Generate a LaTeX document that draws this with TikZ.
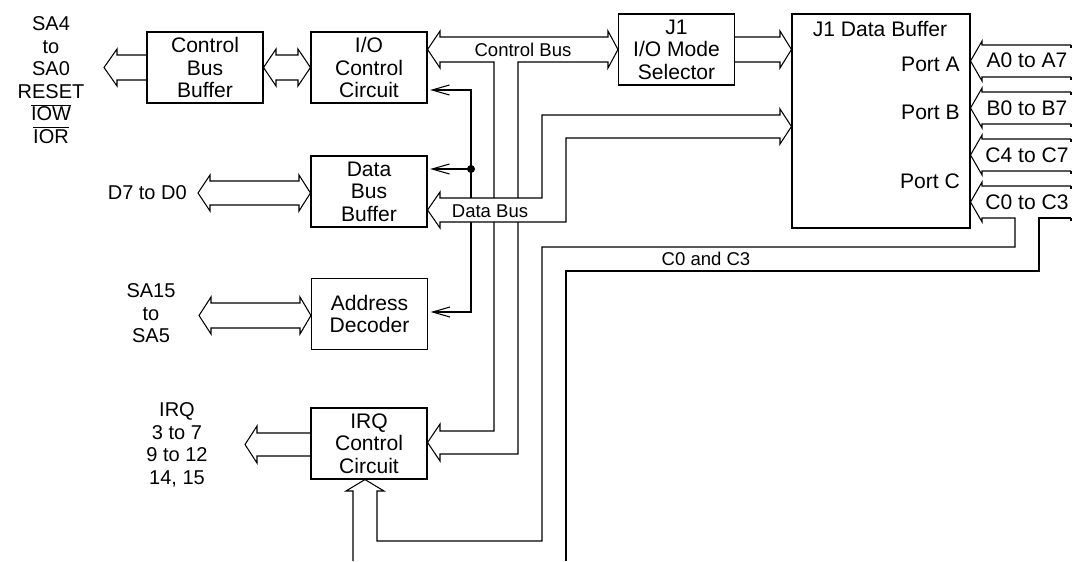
\documentclass[tikz,border=0pt]{standalone}
\usepackage{fontspec}
\setmainfont{Liberation Sans}
\usetikzlibrary{arrows.meta}

\tikzset{
  box/.style={draw, line width=0.8pt, align=center, inner sep=0pt,
    minimum width=87pt, minimum height=53.25pt, font=\fontsize{15.8}{16.9}\selectfont},
  lab/.style={align=center, inner sep=0pt, font=\fontsize{15}{16.9}\selectfont},
  plab/.style={inner sep=0pt, font=\fontsize{15.8}{16.9}\selectfont},
  slab/.style={inner sep=0pt, font=\fontsize{13.9}{15}\selectfont},
  bus/.style={line width=0.8pt, line join=miter},
  sig/.style={line width=0.8pt, -{Straight Barb[length=13pt,width=7.5pt]}}
}

\begin{document}
\begin{tikzpicture}[x=0.75pt, y=-0.75pt]
\fill[white] (0,0) rectangle (1073,561);

% blocks
\node[box] (cbb) at (205,67.5) {Control\\Bus\\Buffer};
\node[box] (iocc) at (369,67.5) {I/O\\Control\\Circuit};
\node[box] (mode) at (676.5,49.5) {J1\\I/O Mode\\Selector};
\node[box, minimum width=133.5pt, minimum height=160.5pt] (jdb) at (881,121) {};
\node[box] (dbb) at (369,191.5) {Data\\Bus\\Buffer};
\node[box] (adec) at (369.5,314) {Address\\Decoder};
\node[box] (irqc) at (369,443.5) {IRQ\\Control\\Circuit};

\node[plab] (jdbname) at (880,28.5) {J1 Data Buffer};
\node[plab, anchor=east] (porta) at (960,64.5) {Port A};
\node[plab, anchor=east] (portb) at (960,112.5) {Port B};
\node[plab, anchor=east] (portc) at (960,181.5) {Port C};

% outside signals
\node[lab] (ctlsig) at (51,80) {SA4\\to\\SA0\\RESET\\$\overline{\hbox{IOW}}$\\$\overline{\hbox{IOR}}$};
\node[lab, anchor=east] (datsig) at (187,193) {D7 to D0};
\node[lab] (adrsig) at (151,313.5) {SA15\\to\\SA5};
\node[lab] (irqsig) at (177,445) {IRQ\\3 to 7\\9 to 12\\14, 15};

% wide arrows on the left
\draw[bus] (cbb.west |- 0,55) -- (117,55) -- (117,49) -- (104,67.5) -- (117,86) -- (117,80) -- (cbb.west |- 0,80);
\draw[bus] (276,55) -- (276,49) -- (cbb.east) -- (276,86) -- (276,80) -- (298,80) -- (298,86) -- (iocc.west) -- (298,49) -- (298,55) -- cycle;
\draw[bus] (198,193) -- (210,175) -- (210,181) -- (299,181) -- (299,175) -- (dbb.west |- 0,193) -- (299,211) -- (299,205) -- (210,205) -- (210,211) -- cycle;
\draw[bus] (199,315.5) -- (211,297) -- (211,303) -- (300,303) -- (300,297) -- (adec.west |- 0,315.5) -- (300,334) -- (300,328) -- (211,328) -- (211,334) -- cycle;
\draw[bus] (irqc.west |- 0,433) -- (257,433) -- (257,426) -- (245,444.5) -- (257,463) -- (257,456) -- (irqc.west |- 0,456);

% control bus
\draw[bus] (iocc.east |- 0,49.5) -- (440,31) -- (440,37) -- (608,37) -- (608,31) -- (mode.west) -- (608,68) -- (608,62)
  -- (518,62) -- (518,454) -- (440,454) -- (440,461) -- (irqc.east |- 0,442.5) -- (440,424) -- (440,431)
  -- (494,431) -- (494,62) -- (440,62) -- (440,68) -- cycle;
\draw[bus] (mode.east |- 0,37) -- (780,37) -- (780,31) -- (jdb.west |- 0,49.5) -- (780,68) -- (780,62) -- (mode.east |- 0,62);

% select line
\coordinate (tap) at (471,169);
\draw[sig] (tap) |- ([xshift=2pt]iocc.east |- 0,90);
\draw[sig] (tap) -- ([xshift=2pt]dbb.east |- tap);
\draw[sig] (tap) |- ([xshift=2pt]adec.east |- 0,312);
\fill (tap) circle (3pt);

% data bus (covers the lines it crosses)
\draw[bus, fill=white] (dbb.east |- 0,210) -- (440,192) -- (440,198) -- (542,198) -- (542,115) -- (780,115) -- (780,109)
  -- (jdb.west |- 0,126.5) -- (780,144) -- (780,138) -- (566,138) -- (566,222) -- (440,222) -- (440,228) -- cycle;

% ports
\draw[bus] (1071,45) -- (982,45) -- (982,41) -- (jdb.east |- 0,61) -- (982,81) -- (982,77) -- (1071,77);
\draw[bus] (1071,92) -- (982,92) -- (982,88) -- (jdb.east |- 0,108) -- (982,128) -- (982,124) -- (1071,124);
\draw[bus] (1071,139) -- (982,139) -- (982,135) -- (jdb.east |- 0,155) -- (982,175) -- (982,171) -- (1071,171);
\draw[bus] (1071,186) -- (982,186) -- (982,182) -- (jdb.east |- 0,202) -- (982,222) -- (982,218) -- (1015,218)
  -- (1015,247) -- (542,247) -- (542,541) -- (377,541) -- (377,491) -- (384,491) -- (irqc.south -| 365,0)
  -- (346,491) -- (353,491) -- (353,561);
\draw[bus] (1071,218) -- (1039,218) -- (1039,271) -- (566,271) -- (566,561);
\foreach \y in {45,77,92,124,139,171,186,218}
  \draw[bus] (1071,\y) -- (1071,\y+3);

% bus names
\node[slab] (cbusname) at (523,50) {Control Bus};
\node[slab] (dbusname) at (490,211) {Data Bus};
\node[slab] (c03name) at (706,259) {C0 and C3};

\node[plab] (alab) at (1027,60) {A0 to A7};
\node[plab] (blab) at (1027,108) {B0 to B7};
\node[plab] (c47lab) at (1027,155) {C4 to C7};
\node[plab] (c03lab) at (1027,202) {C0 to C3};
\end{tikzpicture}
\end{document}
